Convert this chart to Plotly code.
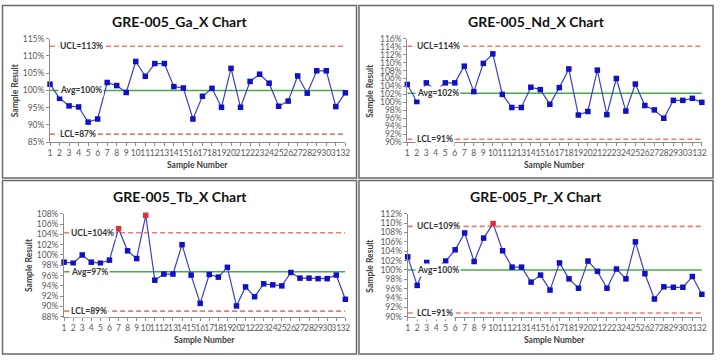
import plotly.graph_objects as go

# ---------------- data ----------------
samples = list(range(1, 33))
sample_labels = [str(i) for i in samples]

ga_values = [101.8, 97.7, 95.5, 95.2, 90.8, 91.7, 102.3, 101.4, 99.4, 108.4,
             104.1, 107.8, 107.8, 101.1, 100.7, 91.7, 98.3, 100.6, 95.1, 106.4,
             95.1, 102.6, 104.7, 102.1, 95.4, 96.9, 104.2, 99.2, 105.7, 105.7,
             95.3, 99.3]
nd_values = [104.5, 100.2, 104.9, 103.0, 104.9, 104.9, 109.1, 102.7, 109.8, 112.2,
             102.0, 98.7, 98.7, 103.8, 103.2, 99.5, 103.7, 108.4, 96.8, 97.7,
             108.1, 96.9, 106.0, 97.8, 104.6, 99.2, 98.1, 96.0, 100.5, 100.5,
             101.0, 100.0]
tb_values = [98.6, 98.4, 100.0, 98.6, 98.4, 99.0, 105.1, 100.8, 99.3, 107.7,
             95.1, 96.3, 96.3, 102.0, 96.1, 90.6, 96.2, 95.7, 97.6, 90.1,
             93.8, 91.9, 94.4, 94.2, 94.0, 96.6, 95.5, 95.5, 95.4, 95.4,
             96.1, 91.4]
pr_values = [102.8, 96.7, 101.6, 100.4, 101.9, 104.3, 107.9, 101.8, 106.8, 109.9,
             104.1, 100.6, 100.6, 97.4, 98.9, 95.7, 101.5, 98.1, 96.1, 101.9,
             99.7, 96.1, 100.2, 98.1, 106.0, 99.2, 93.8, 96.4, 96.3, 96.3,
             98.6, 94.8]

chart_titles = ["GRE-005_Ga_X Chart", "GRE-005_Nd_X Chart",
                "GRE-005_Tb_X Chart", "GRE-005_Pr_X Chart"]
ucl_values = [112.8, 114.1, 104.3, 109.3]
avg_values = [100.0, 102.3, 96.75, 100.0]
lcl_values = [87.3, 90.7, 89.1, 90.8]
y_ranges = [(85, 115), (90, 116), (88, 108), (90, 112)]
y_dticks = [5, 2, 2, 2]
series = [ga_values, nd_values, tb_values, pr_values]

# ---------------- layout geometry (pixels) ----------------
W, H = 720, 360
# plot areas: (left, right, top, bottom) in px
areas = [
    (48.5, 346.7, 34.7, 141.0),
    (409.3, 706.7, 34.7, 141.0),
    (62.7, 346.7, 214.7, 320.7),
    (409.7, 706.7, 214.7, 320.7),
]
panels = [(0.5, 358, 0.5, 178), (360.5, 718, 0.5, 178),
          (0.5, 358, 180.5, 359), (360.5, 718, 180.5, 359)]
ytitle_x = [14, 372, 28, 372]
label_x = [1.8, 1.8, 1.55, 1.8]

FONT = "Lato, 'Liberation Sans', sans-serif"
LINE_BLUE = "#3a40c4"
MARK_BLUE = "#1010c4"
MARK_RED = "#e0303a"
GREEN = "#4aa84a"
RED_DASH = "#f07a72"
AXIS_GRAY = "#8c8c8c"
TICK_TXT = "#595959"
LABEL_TXT = "#333333"

def px(x):
    return x / W

def py(y):
    return 1 - y / H

fig = go.Figure()
annotations = []
shapes = []

for i in range(4):
    sfx = "" if i == 0 else str(i + 1)
    xa, ya = "x" + sfx, "y" + sfx
    vals = series[i]
    ucl, avg, lcl = ucl_values[i], avg_values[i], lcl_values[i]

    # control lines
    fig.add_trace(go.Scatter(x=[samples[0], samples[-1]], y=[ucl, ucl], mode="lines",
                             line=dict(color=RED_DASH, width=1.6, dash="5px,3px"),
                             xaxis=xa, yaxis=ya, showlegend=False, hoverinfo="skip"))
    fig.add_trace(go.Scatter(x=[samples[0], samples[-1]], y=[lcl, lcl], mode="lines",
                             line=dict(color=RED_DASH, width=1.6, dash="5px,3px"),
                             xaxis=xa, yaxis=ya, showlegend=False, hoverinfo="skip"))
    fig.add_trace(go.Scatter(x=[samples[0], samples[-1]], y=[avg, avg], mode="lines",
                             line=dict(color=GREEN, width=1.5),
                             xaxis=xa, yaxis=ya, showlegend=False, hoverinfo="skip"))

    colors = [MARK_RED if (v > ucl or v < lcl) else MARK_BLUE for v in vals]
    fig.add_trace(go.Scatter(x=samples, y=vals, mode="lines+markers",
                             line=dict(color=LINE_BLUE, width=1.2),
                             marker=dict(symbol="square", size=5.5, color=colors,
                                         line=dict(width=0)),
                             cliponaxis=False,
                             xaxis=xa, yaxis=ya, showlegend=False))

    l, r, t, b = areas[i]
    fig.layout["xaxis" + sfx] = dict(
        domain=[px(l), px(r)], anchor=ya, range=[1, 32],
        tickmode="array", tickvals=samples, ticktext=sample_labels, tickangle=0,
        showline=True, linecolor=AXIS_GRAY, linewidth=1,
        ticks="outside", ticklen=3, tickcolor=AXIS_GRAY,
        showgrid=False, zeroline=False,
        tickfont=dict(family=FONT, size=8.5, color=TICK_TXT),
    )
    fig.layout["yaxis" + sfx] = dict(
        domain=[py(b), py(t)], anchor=xa, range=list(y_ranges[i]),
        dtick=y_dticks[i], tick0=y_ranges[i][0], ticksuffix="%",
        showline=True, linecolor=AXIS_GRAY, linewidth=1,
        ticks="outside", ticklen=3, tickcolor=AXIS_GRAY,
        showgrid=False, zeroline=False,
        tickfont=dict(family=FONT, size=8.5, color=TICK_TXT),
    )

    # limit labels
    for txt, yv in (("UCL=%d%%" % round(ucl), ucl), ("Avg=%d%%" % round(avg), avg),
                    ("LCL=%d%%" % round(lcl), lcl)):
        annotations.append(dict(
            x=label_x[i], y=yv, xref=xa, yref=ya, xanchor="left", yanchor="middle",
            text="<b>%s</b>" % txt, showarrow=False, bgcolor="white", borderpad=1,
            font=dict(family=FONT, size=8.5, color=LABEL_TXT)))

    # titles
    pl, pr_, pt, pb = panels[i]
    annotations.append(dict(
        x=px((pl + pr_) / 2), y=py(pt + 16), xref="paper", yref="paper",
        text="<b>%s</b>" % chart_titles[i], showarrow=False,
        xanchor="center", yanchor="middle",
        font=dict(family=FONT, size=14, color="#111111")))
    annotations.append(dict(
        x=px((l + r) / 2), y=py(pt + 164), xref="paper", yref="paper",
        text="<b>Sample Number</b>", showarrow=False,
        xanchor="center", yanchor="middle",
        font=dict(family=FONT, size=8.5, color="#404040")))
    annotations.append(dict(
        x=px(ytitle_x[i]), y=py((t + b) / 2), xref="paper", yref="paper",
        text="<b>Sample Result</b>", showarrow=False, textangle=-90,
        xanchor="center", yanchor="middle",
        font=dict(family=FONT, size=8.5, color="#404040")))

    shapes.append(dict(type="rect", xref="paper", yref="paper",
                       x0=px(pl), x1=px(pr_), y0=py(pb), y1=py(pt),
                       line=dict(color="#6a6a6a", width=1.5), layer="above"))

fig.update_layout(
    width=W, height=H, margin=dict(l=0, r=0, t=0, b=0),
    paper_bgcolor="white", plot_bgcolor="white",
    annotations=annotations, shapes=shapes, showlegend=False,
    font=dict(family=FONT),
)

fig.write_html("out.html")
